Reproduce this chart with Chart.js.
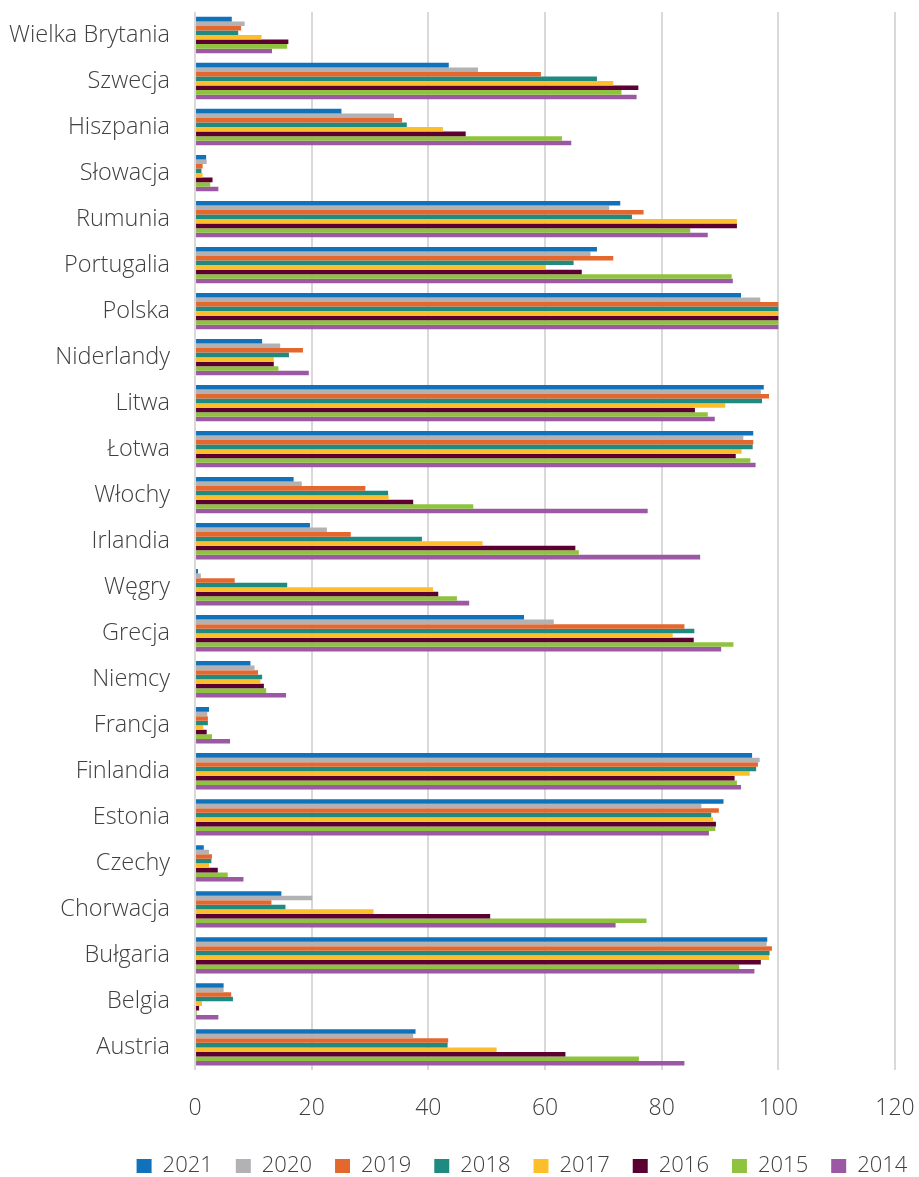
<!DOCTYPE html>
<html>
<head>
<meta charset="utf-8">
<script src="https://cdn.jsdelivr.net/npm/chart.js@4.4.0/dist/chart.umd.min.js"></script>
<style>
  html, body { margin: 0; padding: 0; background: #fff; }
  #wrap { width: 919px; height: 1177px; position: relative; }
</style>
</head>
<body>
<div id="wrap"><canvas id="chart"></canvas></div>
<script>
// countries, top to bottom
const countries = ['Wielka Brytania', 'Szwecja', 'Hiszpania', 'Słowacja', 'Rumunia', 'Portugalia',
  'Polska', 'Niderlandy', 'Litwa', 'Łotwa', 'Włochy', 'Irlandia', 'Węgry', 'Grecja', 'Niemcy',
  'Francja', 'Finlandia', 'Estonia', 'Czechy', 'Chorwacja', 'Bułgaria', 'Belgia', 'Austria'];

const years = ['2021', '2020', '2019', '2018', '2017', '2016', '2015', '2014'];

const v2021 = [6.3, 43.5, 25.1, 1.9, 72.9, 68.9, 93.6, 11.5, 97.5, 95.7, 16.9, 19.7, 0.5, 56.4, 9.5, 2.4, 95.5, 90.6, 1.5, 14.8, 98.1, 4.9, 37.8];
const v2020 = [8.5, 48.5, 34.1, 2.0, 71.0, 67.8, 96.9, 14.6, 97.0, 94.0, 18.3, 22.6, 1.0, 61.5, 10.2, 2.1, 96.8, 86.8, 2.4, 20.1, 98.0, 4.9, 37.4];
const v2019 = [7.9, 59.3, 35.5, 1.3, 76.9, 71.7, 100, 18.5, 98.4, 95.7, 29.2, 26.7, 6.8, 83.9, 10.8, 2.2, 96.5, 89.8, 2.9, 13.1, 98.9, 6.2, 43.4];
const v2018 = [7.4, 68.9, 36.3, 1.1, 74.9, 64.9, 100, 16.1, 97.2, 95.6, 33.1, 38.9, 15.8, 85.6, 11.5, 2.2, 96.2, 88.5, 2.8, 15.5, 98.5, 6.5, 43.3];
const v2017 = [11.4, 71.7, 42.5, 1.3, 92.9, 60.1, 100, 13.5, 90.9, 93.7, 33.2, 49.3, 40.8, 81.9, 11.2, 1.4, 95.1, 88.8, 2.4, 30.6, 98.4, 1.2, 51.7];
const v2016 = [16.0, 76.0, 46.4, 3.0, 92.9, 66.3, 100, 13.5, 85.7, 92.7, 37.4, 65.2, 41.7, 85.5, 11.8, 2.0, 92.5, 89.3, 3.9, 50.6, 97.0, 0.7, 63.5];
const v2015 = [15.8, 73.1, 62.9, 2.6, 84.9, 92.0, 100, 14.3, 87.9, 95.2, 47.7, 65.8, 44.9, 92.3, 12.2, 2.9, 92.9, 89.2, 5.6, 77.4, 93.3, 0.3, 76.1];
const v2014 = [13.2, 75.7, 64.5, 4.0, 87.9, 92.2, 100, 19.5, 89.1, 96.1, 77.6, 86.6, 47.0, 90.2, 15.6, 6.0, 93.6, 88.1, 8.3, 72.1, 95.9, 4.0, 83.9];

const xTicks = [0, 20, 40, 60, 80, 100, 120];

const seriesValues = [v2021, v2020, v2019, v2018, v2017, v2016, v2015, v2014];
const seriesColors = ['#1072ba', '#b2b2b5', '#e4672e', '#1f8a80', '#fdbe2c', '#5b0030', '#8fc33f', '#9c59a3'];

const textColor = '#404040';
const fontFamily = '"Open Sans", "DejaVu Sans", sans-serif';

// move the legend a bit right and down, like the original
const legendShift = {
  id: 'legendShift',
  afterLayout(chart) {
    const lg = chart.legend;
    if (!lg) return;
    lg.left += 70;
    lg.right += 70;
    lg.top += 10;
    lg.bottom += 10;
  }
};

const ctx = document.getElementById('chart');

new Chart(ctx, {
  type: 'bar',
  data: {
    labels: countries,
    datasets: years.map((y, i) => ({
      label: y,
      data: seriesValues[i],
      backgroundColor: seriesColors[i],
      borderWidth: 0,
      barPercentage: 1.0,
      categoryPercentage: 0.79
    }))
  },
  plugins: [legendShift],
  options: {
    indexAxis: 'y',
    responsive: true,
    maintainAspectRatio: false,
    animation: false,
    layout: {
      padding: { left: 9, right: 24, top: 12, bottom: 0 }
    },
    plugins: {
      legend: {
        display: true,
        position: 'bottom',
        labels: {
          color: textColor,
          boxWidth: 15,
          boxHeight: 14,
          padding: 23,
          font: { family: fontFamily, size: 22, weight: '300' }
        }
      },
      tooltip: { enabled: false }
    },
    scales: {
      x: {
        min: 0,
        max: 120,
        afterBuildTicks: axis => {
          axis.ticks = xTicks.map(v => ({ value: v }));
        },
        afterFit: axis => {
          axis.height -= 24;
          axis.paddingLeft = 0;
          axis.paddingRight = 0;
        },
        grid: {
          color: '#d9d9d9',
          lineWidth: 2,
          drawTicks: false
        },
        border: { display: false },
        ticks: {
          color: textColor,
          padding: 24,
          font: { family: fontFamily, size: 23, weight: '300' }
        }
      },
      y: {
        afterFit: axis => {
          axis.width -= 25;
          axis.paddingTop = 0;
          axis.paddingBottom = 0;
        },
        grid: { display: false, drawTicks: false },
        border: { display: false },
        ticks: {
          color: textColor,
          padding: 25,
          autoSkip: false,
          font: { family: fontFamily, size: 23.5, weight: '300' }
        }
      }
    }
  }
});
</script>
</body>
</html>
